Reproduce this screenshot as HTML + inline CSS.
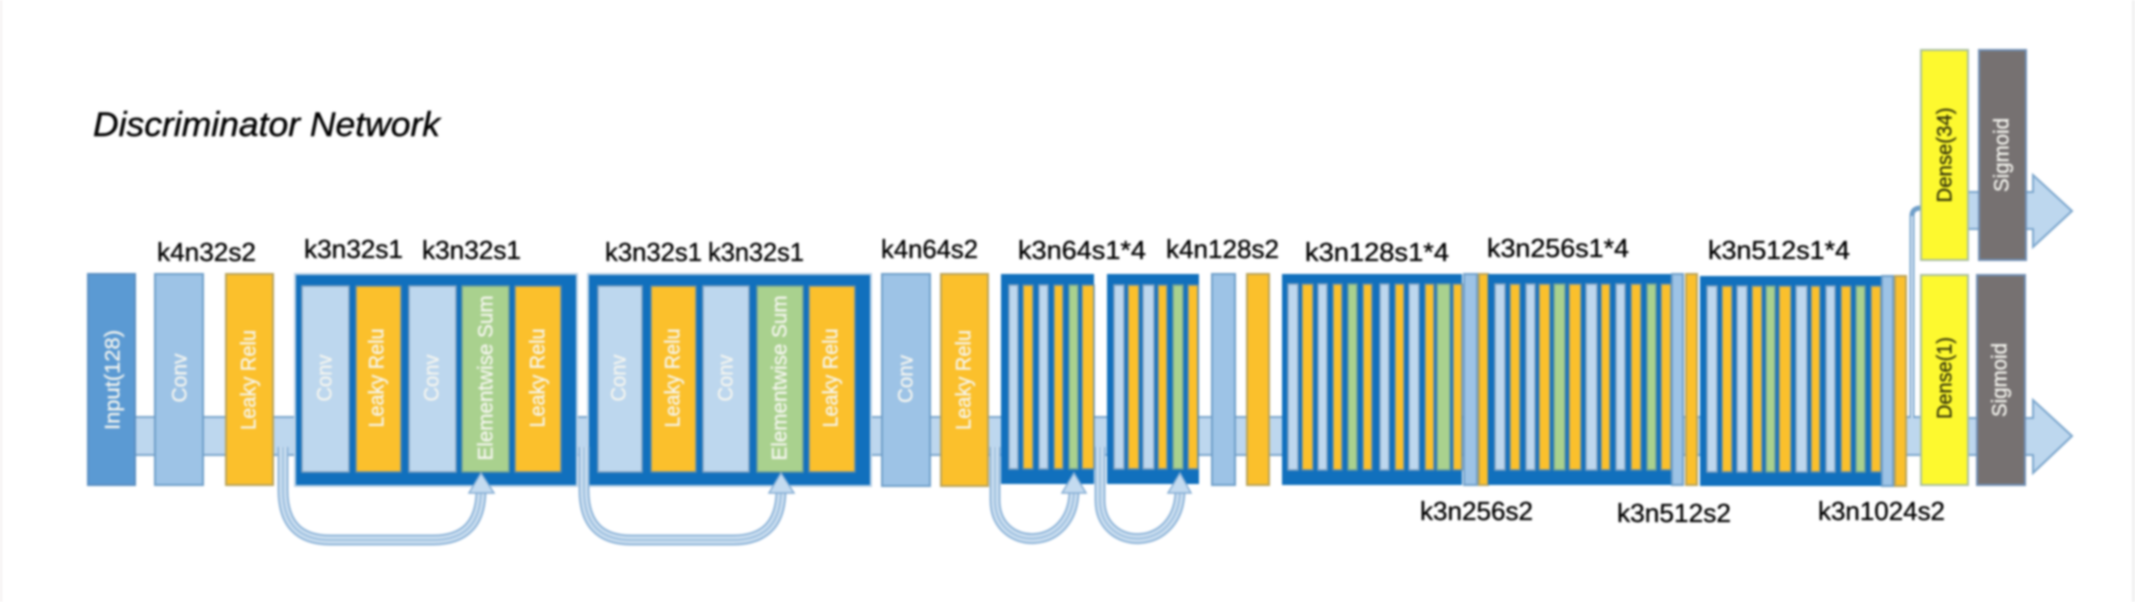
<!DOCTYPE html>
<html><head><meta charset="utf-8"><style>
html,body{margin:0;padding:0;background:#fff;width:2135px;height:602px;overflow:hidden}
svg{display:block;filter:blur(1px)}
text{font-family:"Liberation Sans",sans-serif}
.l{font-size:26px;fill:#000;stroke:#000;stroke-width:.35}
.v{font-size:21px;fill:#f6f6f0;stroke:#f6f6f0;stroke-width:.3;text-anchor:middle;dominant-baseline:central}
.d{font-size:21px;fill:#33330a;stroke:#33330a;stroke-width:.3;text-anchor:middle;dominant-baseline:central}
.in{fill:#5b9ad3;stroke:#5a8fc2;stroke-width:2}
.c{fill:#9dc3e6;stroke:#6f9fc9;stroke-width:2}
.r{fill:#fbc02c;stroke:#b9a35a;stroke-width:2}
.b{fill:#1170bd;stroke:#b9d0e6;stroke-width:2}
.lc{fill:#bdd7ee;stroke:#7f9fbe;stroke-width:1.5}
.ly{fill:#fbc02c;stroke:#5f8aa8;stroke-width:1.5}
.g{fill:#a9d18e;stroke:#6a9a9a;stroke-width:1.5}
.y{fill:#fdf92f;stroke:#a9bfa0;stroke-width:2}
.s{fill:#767171;stroke:#6f8fb5;stroke-width:2}
.a{fill:#bdd7ee;stroke:#7aa5cc;stroke-width:2}
</style></head><body>
<svg width="2135" height="602" viewBox="0 0 2135 602" xmlns="http://www.w3.org/2000/svg">
<rect width="2135" height="602" fill="#fff"/>
<rect x="0" y="0" width="2" height="602" fill="#f3efef"/>
<rect x="2132" y="0" width="3" height="602" fill="#f0f0f0"/>

<text x="93" y="136" font-style="italic" font-size="34" fill="#000" stroke="#000" stroke-width=".4" textLength="347" lengthAdjust="spacingAndGlyphs">Discriminator Network</text>

<!-- main band -->
<rect class="a" x="130" y="417" width="1800" height="38"/>

<!-- input blocks -->
<rect class="in" x="88" y="274" width="47" height="211"/>
<rect class="c" x="155" y="274" width="48" height="211"/>
<rect class="r" x="226" y="274" width="47" height="211"/>

<!-- block 1 -->
<rect class="b" x="295" y="274" width="282" height="212"/>
<rect class="lc" x="302" y="286" width="47" height="186"/>
<rect class="ly" x="356" y="286" width="45" height="186"/>
<rect class="lc" x="409" y="286" width="47" height="186"/>
<rect class="g" x="462" y="286" width="47" height="186"/>
<rect class="ly" x="515" y="286" width="46" height="186"/>

<!-- block 2 -->
<rect class="b" x="588" y="274" width="283" height="212"/>
<rect class="lc" x="598" y="286" width="44" height="186"/>
<rect class="ly" x="651" y="286" width="45" height="186"/>
<rect class="lc" x="703" y="286" width="46" height="186"/>
<rect class="g" x="757" y="286" width="46" height="186"/>
<rect class="ly" x="809" y="286" width="46" height="186"/>

<rect class="c" x="882" y="274" width="48" height="212"/>
<rect class="r" x="941" y="274" width="47" height="212"/>

<!-- block 3 -->
<rect x="1001" y="274" width="93" height="210" fill="#1170bd"/>
<rect class="lc" x="1009" y="285" width="9" height="184"/>
<rect class="ly" x="1023" y="285" width="10" height="184"/>
<rect class="lc" x="1039" y="285" width="9" height="184"/>
<rect class="ly" x="1054" y="285" width="9" height="184"/>
<rect class="g" x="1069" y="285" width="9" height="184"/>
<rect class="ly" x="1082" y="285" width="12" height="184"/>

<!-- block 4 -->
<rect x="1107" y="274" width="92" height="210" fill="#1170bd"/>
<rect class="lc" x="1114" y="285" width="10" height="184"/>
<rect class="ly" x="1128" y="285" width="11" height="184"/>
<rect class="lc" x="1143" y="285" width="11" height="184"/>
<rect class="ly" x="1158" y="285" width="9" height="184"/>
<rect class="g" x="1173" y="285" width="10" height="184"/>
<rect class="ly" x="1188" y="285" width="10" height="184"/>

<rect class="c" x="1212" y="274" width="23" height="211"/>
<rect class="r" x="1247" y="274" width="22" height="211"/>

<!-- block 5 -->
<rect x="1282" y="274" width="180" height="211" fill="#1170bd"/>
<rect class="lc" x="1288" y="284" width="10" height="186"/>
<rect class="ly" x="1302" y="284" width="11" height="186"/>
<rect class="lc" x="1318" y="284" width="9" height="186"/>
<rect class="ly" x="1333" y="284" width="9" height="186"/>
<rect class="g" x="1348" y="284" width="9" height="186"/>
<rect class="ly" x="1363" y="284" width="9" height="186"/>
<rect class="lc" x="1380" y="284" width="9" height="186"/>
<rect class="ly" x="1395" y="284" width="9" height="186"/>
<rect class="lc" x="1409" y="284" width="10" height="186"/>
<rect class="ly" x="1425" y="284" width="9" height="186"/>
<rect class="g" x="1437" y="284" width="13" height="186"/>
<rect class="ly" x="1453" y="284" width="9" height="186"/>

<rect class="c" x="1464" y="274" width="13" height="211"/>
<rect class="r" x="1479" y="274" width="9" height="211"/>

<!-- block 6 -->
<rect x="1488" y="274" width="184" height="211" fill="#1170bd"/>
<rect class="lc" x="1495" y="284" width="10" height="186"/>
<rect class="ly" x="1510" y="284" width="10" height="186"/>
<rect class="lc" x="1526" y="284" width="9" height="186"/>
<rect class="ly" x="1539" y="284" width="11" height="186"/>
<rect class="g" x="1554" y="284" width="11" height="186"/>
<rect class="ly" x="1569" y="284" width="12" height="186"/>
<rect class="lc" x="1586" y="284" width="11" height="186"/>
<rect class="ly" x="1601" y="284" width="9" height="186"/>
<rect class="lc" x="1616" y="284" width="9" height="186"/>
<rect class="ly" x="1631" y="284" width="10" height="186"/>
<rect class="g" x="1647" y="284" width="9" height="186"/>
<rect class="ly" x="1661" y="284" width="10" height="186"/>

<rect class="c" x="1672" y="274" width="11" height="211"/>
<rect class="r" x="1686" y="274" width="11" height="211"/>

<!-- block 7 -->
<rect x="1700" y="276" width="182" height="210" fill="#1170bd"/>
<rect class="lc" x="1707" y="286" width="10" height="186"/>
<rect class="ly" x="1722" y="286" width="10" height="186"/>
<rect class="lc" x="1737" y="286" width="10" height="186"/>
<rect class="ly" x="1752" y="286" width="10" height="186"/>
<rect class="g" x="1766" y="286" width="9" height="186"/>
<rect class="ly" x="1779" y="286" width="12" height="186"/>
<rect class="lc" x="1796" y="286" width="11" height="186"/>
<rect class="ly" x="1811" y="286" width="9" height="186"/>
<rect class="lc" x="1826" y="286" width="9" height="186"/>
<rect class="ly" x="1841" y="286" width="10" height="186"/>
<rect class="g" x="1856" y="286" width="9" height="186"/>
<rect class="ly" x="1871" y="286" width="10" height="186"/>

<rect class="c" x="1882" y="276" width="11" height="210"/>
<rect class="r" x="1895" y="276" width="11" height="210"/>

<!-- connector to Dense(34) -->
<path d="M1912 418V216Q1912 208 1921 208" fill="none" stroke="#6f9fc9" stroke-width="5"/>
<path d="M1912 418V216" fill="none" stroke="#dbe8f4" stroke-width="2"/>

<!-- upper arrow -->
<path class="a" d="M1968 192H2033V175L2072 211L2033 247V229H1968Z"/>
<rect class="y" x="1921" y="50" width="47" height="210"/>
<rect class="s" x="1979" y="50" width="47" height="210"/>

<!-- lower arrow -->
<path class="a" d="M1968 418H2033V400L2072 436L2033 473V455H1968Z"/>
<rect class="y" x="1921" y="275" width="47" height="210"/>
<rect class="s" x="1977" y="275" width="48" height="210"/>

<!-- skip arrows -->
<g fill="none" stroke-linecap="butt">
<g stroke="#8fb5d9" stroke-width="11">
<path d="M283 447V490Q283 540 330 540H433Q481 540 481 490"/>
<path d="M584 447V490Q584 540 631 540H733Q781 540 781 490"/>
<path d="M995 447V500C995 553 1074 553 1074 490"/>
<path d="M1100 447V500C1100 553 1180 553 1180 490"/>
</g>
<g stroke="#cfe1f1" stroke-width="7">
<path d="M283 447V490Q283 540 330 540H433Q481 540 481 490"/>
<path d="M584 447V490Q584 540 631 540H733Q781 540 781 490"/>
<path d="M995 447V500C995 553 1074 553 1074 490"/>
<path d="M1100 447V500C1100 553 1180 553 1180 490"/>
</g>
<g stroke="#9dbfdf" stroke-width="2">
<path d="M283 447V490Q283 540 330 540H433Q481 540 481 490"/>
<path d="M584 447V490Q584 540 631 540H733Q781 540 781 490"/>
<path d="M995 447V500C995 553 1074 553 1074 490"/>
<path d="M1100 447V500C1100 553 1180 553 1180 490"/>
</g>
</g>
<g fill="#c4dbf0" stroke="#86aed4" stroke-width="1.5">
<path d="M481 473L494 493H469Z"/>
<path d="M781 473L794 493H769Z"/>
<path d="M1074 473L1086 493H1062Z"/>
<path d="M1180 473L1191 493H1168Z"/>
</g>

<!-- top labels -->
<text class="l" x="157" y="261" textLength="99" lengthAdjust="spacingAndGlyphs">k4n32s2</text>
<text class="l" x="304" y="258" textLength="99" lengthAdjust="spacingAndGlyphs">k3n32s1</text>
<text class="l" x="422" y="259" textLength="99" lengthAdjust="spacingAndGlyphs">k3n32s1</text>
<text class="l" x="605" y="261" textLength="97" lengthAdjust="spacingAndGlyphs">k3n32s1</text>
<text class="l" x="708" y="261" textLength="96" lengthAdjust="spacingAndGlyphs">k3n32s1</text>
<text class="l" x="881" y="258" textLength="97" lengthAdjust="spacingAndGlyphs">k4n64s2</text>
<text class="l" x="1018" y="259" textLength="128" lengthAdjust="spacingAndGlyphs">k3n64s1*4</text>
<text class="l" x="1166" y="258" textLength="113" lengthAdjust="spacingAndGlyphs">k4n128s2</text>
<text class="l" x="1305" y="261" textLength="144" lengthAdjust="spacingAndGlyphs">k3n128s1*4</text>
<text class="l" x="1487" y="257" textLength="142" lengthAdjust="spacingAndGlyphs">k3n256s1*4</text>
<text class="l" x="1708" y="259" textLength="142" lengthAdjust="spacingAndGlyphs">k3n512s1*4</text>

<!-- bottom labels -->
<text class="l" x="1420" y="520" textLength="113" lengthAdjust="spacingAndGlyphs">k3n256s2</text>
<text class="l" x="1617" y="522" textLength="114" lengthAdjust="spacingAndGlyphs">k3n512s2</text>
<text class="l" x="1818" y="520" textLength="127" lengthAdjust="spacingAndGlyphs">k3n1024s2</text>

<!-- vertical labels -->
<text class="v" transform="translate(113,380) rotate(-90)" textLength="100" lengthAdjust="spacingAndGlyphs">Input(128)</text>
<text class="v" transform="translate(180,378) rotate(-90)" textLength="49" lengthAdjust="spacingAndGlyphs">Conv</text>
<text class="v" transform="translate(249,380) rotate(-90)" textLength="100" lengthAdjust="spacingAndGlyphs">Leaky Relu</text>

<text class="v" transform="translate(325,378) rotate(-90)" textLength="47" lengthAdjust="spacingAndGlyphs">Conv</text>
<text class="v" transform="translate(377,378) rotate(-90)" textLength="99" lengthAdjust="spacingAndGlyphs">Leaky Relu</text>
<text class="v" transform="translate(432,378) rotate(-90)" textLength="47" lengthAdjust="spacingAndGlyphs">Conv</text>
<text class="v" transform="translate(486,378) rotate(-90)" textLength="165" lengthAdjust="spacingAndGlyphs">Elementwise Sum</text>
<text class="v" transform="translate(538,378) rotate(-90)" textLength="99" lengthAdjust="spacingAndGlyphs">Leaky Relu</text>

<text class="v" transform="translate(619,378) rotate(-90)" textLength="47" lengthAdjust="spacingAndGlyphs">Conv</text>
<text class="v" transform="translate(673,378) rotate(-90)" textLength="99" lengthAdjust="spacingAndGlyphs">Leaky Relu</text>
<text class="v" transform="translate(726,378) rotate(-90)" textLength="47" lengthAdjust="spacingAndGlyphs">Conv</text>
<text class="v" transform="translate(780,378) rotate(-90)" textLength="165" lengthAdjust="spacingAndGlyphs">Elementwise Sum</text>
<text class="v" transform="translate(831,378) rotate(-90)" textLength="99" lengthAdjust="spacingAndGlyphs">Leaky Relu</text>

<text class="v" transform="translate(906,379) rotate(-90)" textLength="48" lengthAdjust="spacingAndGlyphs">Conv</text>
<text class="v" transform="translate(964,380) rotate(-90)" textLength="100" lengthAdjust="spacingAndGlyphs">Leaky Relu</text>

<text class="d" transform="translate(1945,155) rotate(-90)" textLength="95" lengthAdjust="spacingAndGlyphs">Dense(34)</text>
<text class="v" transform="translate(2002,155) rotate(-90)" textLength="74" lengthAdjust="spacingAndGlyphs">Sigmoid</text>
<text class="d" transform="translate(1945,378) rotate(-90)" textLength="82" lengthAdjust="spacingAndGlyphs">Dense(1)</text>
<text class="v" transform="translate(2000,380) rotate(-90)" textLength="74" lengthAdjust="spacingAndGlyphs">Sigmoid</text>
</svg>
</body></html>
